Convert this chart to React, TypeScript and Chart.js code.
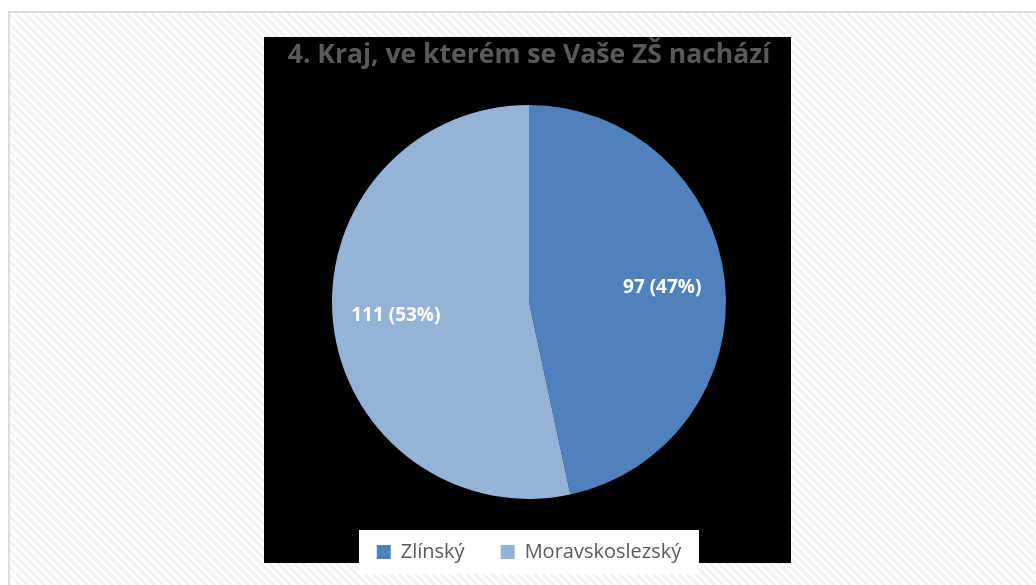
import React, { useEffect, useRef } from "react";
import { Chart, registerables } from "chart.js";

Chart.register(...registerables);

const chartTitle = "4. Kraj, ve kterém se Vaše ZŠ nachází";
const categories = ["Zlínský", "Moravskoslezský"];
const counts = [97, 111];
const sliceColors = ["#4F81BD", "#95B3D7"];

const FONT = "'Open Sans', sans-serif";

const backdropPlugin = {
  id: "backdrop",
  beforeDraw(chart: any) {
    const { ctx, width } = chart;
    ctx.save();
    ctx.fillStyle = "#000000";
    ctx.fillRect(0, 0, width, 526);
    // legend white box
    ctx.fillStyle = "#ffffff";
    ctx.fillRect(95, 493, 340, 44);
    ctx.restore();
  },
};

const labelPlugin = {
  id: "sliceLabels",
  afterDatasetsDraw(chart: any) {
    const { ctx } = chart;
    const meta = chart.getDatasetMeta(0);
    const data = chart.data.datasets[0].data as number[];
    const total = data.reduce((a, b) => a + b, 0);
    ctx.save();
    ctx.fillStyle = "#ffffff";
    ctx.font = `bold 19px ${FONT}`;
    ctx.textAlign = "center";
    ctx.textBaseline = "middle";
    meta.data.forEach((arc: any, i: number) => {
      const p = arc.getProps(["x", "y", "startAngle", "endAngle", "outerRadius"], true);
      const mid = (p.startAngle + p.endAngle) / 2;
      const r = p.outerRadius * 0.68;
      const x = p.x + Math.cos(mid) * r;
      const y = p.y + Math.sin(mid) * r;
      const pct = Math.round((data[i] / total) * 100);
      ctx.fillText(`${data[i]} (${pct}%)`, x, y);
    });
    ctx.restore();
  },
};

export default function App() {
  const ref = useRef<HTMLCanvasElement>(null);

  useEffect(() => {
    if (!ref.current) return;
    const chart = new Chart(ref.current, {
      type: "pie",
      data: {
        labels: categories,
        datasets: [
          {
            data: counts,
            backgroundColor: sliceColors,
            borderWidth: 0,
            radius: 197,
          },
        ],
      },
      options: {
        responsive: false,
        animation: false,
        layout: { padding: { top: 0, bottom: 5, left: 3, right: 0 } },
        plugins: {
          title: {
            display: true,
            text: chartTitle,
            color: "#595959",
            font: { family: FONT, size: 26.5, weight: "bold", lineHeight: 1.2 },
            padding: { top: 3, bottom: 26 },
          },
          legend: {
            position: "bottom",
            labels: {
              color: "#595959",
              font: { family: FONT, size: 20 },
              boxWidth: 14,
              boxHeight: 14,
              padding: 36,
            },
          },
          tooltip: { enabled: false },
        },
      },
      plugins: [backdropPlugin, labelPlugin],
    });
    return () => chart.destroy();
  }, []);

  return (
    <div style={{ position: "absolute", left: 0, top: 0, width: 1036, height: 585, overflow: "hidden", background: "#ffffff" }}>
      <div
        style={{
          position: "absolute",
          left: 8,
          top: 11,
          width: 1060,
          height: 620,
          border: "2px solid #dcdcdc",
          background:
            "repeating-linear-gradient(45deg, #ffffff 0px, #ffffff 3px, #f3f3f3 3px, #f3f3f3 6px)",
        }}
      />
      <canvas
        ref={ref}
        width={527}
        height={540}
        style={{ position: "absolute", left: 264, top: 37, width: 527, height: 540 }}
      />
    </div>
  );
}
